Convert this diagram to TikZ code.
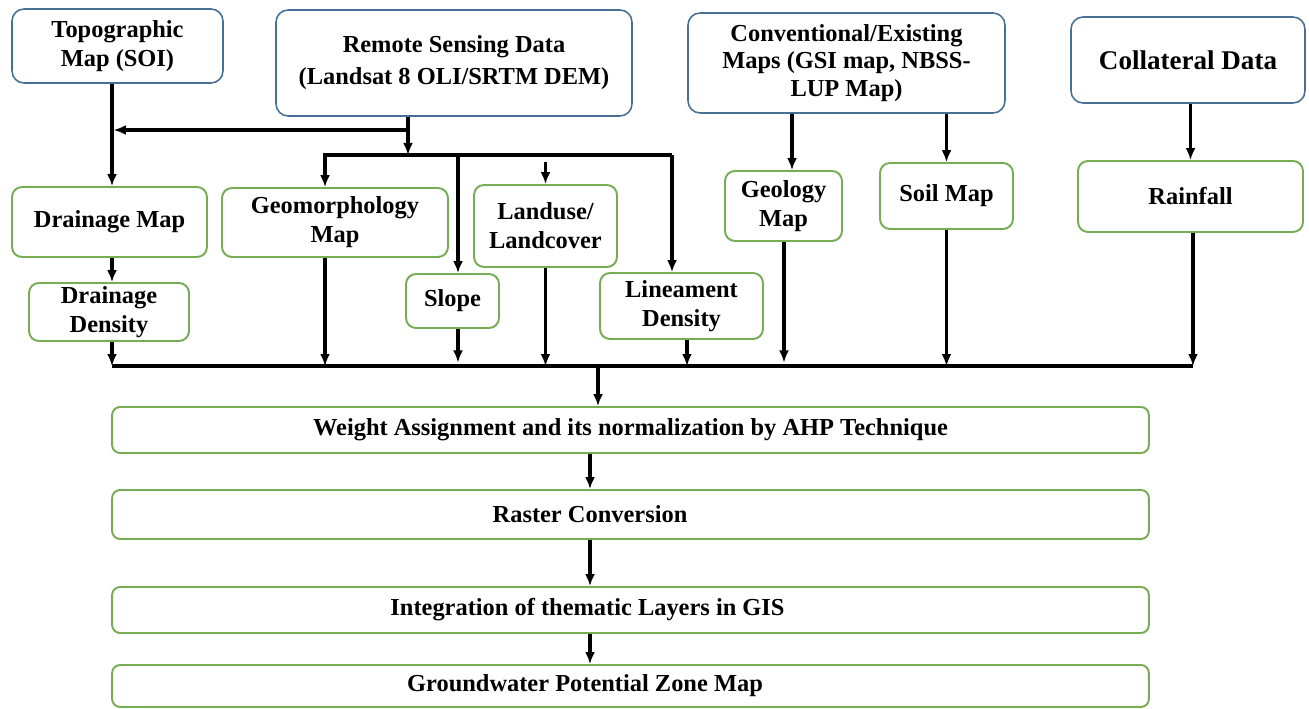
\documentclass[tikz,border=0pt]{standalone}
\usepackage{fontspec}
\setmainfont{Liberation Serif}
\usetikzlibrary{arrows.meta}
\definecolor{bluebd}{RGB}{72,112,150}
\definecolor{greenbd}{RGB}{118,172,84}
\tikzset{
  base/.style={draw, align=center, inner sep=0pt, font=\fontsize{13.9}{16.5}\selectfont\bfseries, text=black},
  bluebox/.style={base, draw=bluebd, line width=0.9pt, rounded corners=0.24cm},
  greenbox/.style={base, draw=greenbd, line width=1.1pt, rounded corners=0.2cm},
  longbox/.style={greenbox, rounded corners=0.16cm, minimum width=20.74cm},
  conn/.style={line width=1.9pt, black},
  arr/.style={conn, -{Latex[length=2.4mm,width=2mm]}},
}
\begin{document}
\begin{tikzpicture}[x=0.02cm,y=-0.02cm]
\useasboundingbox (0,0) rectangle (1309,709);
% top row
\node[bluebox, minimum width=4.22cm, minimum height=1.48cm] (topo) at (117.5,46) {Topographic\\Map (SOI)};
\node[bluebox, minimum width=7.12cm, minimum height=2.12cm, font=\fontsize{13.9}{18.2}\selectfont\bfseries] (remote) at (454,63) {Remote Sensing Data\\(Landsat 8 OLI/SRTM DEM)};
\node[bluebox, minimum width=6.34cm, minimum height=2.0cm, font=\fontsize{13.9}{15.6}\selectfont\bfseries] (conv) at (846.5,63) {Conventional/Existing\\Maps (GSI map, NBSS-\\LUP Map)};
\node[bluebox, minimum width=4.68cm, minimum height=1.72cm, font=\fontsize{15.4}{18}\selectfont\bfseries] (coll) at (1188,60) {Collateral Data};
% second row
\node[greenbox, minimum width=3.9cm, minimum height=1.4cm] (drmap) at (109.5,222) {Drainage Map};
\node[greenbox, minimum width=4.52cm, minimum height=1.38cm] (geo) at (335,222.5) {Geomorphology\\Map};
\node[greenbox, minimum width=2.86cm, minimum height=1.64cm] (lu) at (545.5,226) {Landuse/\\Landcover};
\node[greenbox, minimum width=2.34cm, minimum height=1.4cm] (geol) at (783.5,206) {Geology\\Map};
\node[greenbox, minimum width=2.66cm, minimum height=1.32cm] (soil) at (946.5,196) {Soil Map};
\node[greenbox, minimum width=4.5cm, minimum height=1.42cm] (rain) at (1190.5,196.5) {Rainfall};
% third row
\node[greenbox, minimum width=3.2cm, minimum height=1.16cm] (dd) at (109,312) {Drainage\\Density};
\node[greenbox, minimum width=1.86cm, minimum height=1.08cm] (slope) at (452.5,301) {Slope};
\node[greenbox, minimum width=3.26cm, minimum height=1.32cm] (lin) at (681.5,306) {Lineament\\Density};
% process boxes
\node[longbox, minimum height=0.92cm] (wt) at (630.5,430) {Weight Assignment and its normalization by AHP Technique};
\node[longbox, minimum height=0.98cm] (ras) at (630.5,514.5) {Raster Conversion\hspace*{1.62cm}};
\node[longbox, minimum height=0.92cm] (integ) at (630.5,610) {Integration of thematic Layers in GIS\hspace*{1.72cm}};
\node[longbox, minimum height=0.84cm] (gw) at (630.5,686) {Groundwater Potential Zone Map\hspace*{1.82cm}};
% lane coordinates
\coordinate (x112) at (112,0);
\coordinate (x458) at (458,0);
\coordinate (x687) at (687,0);
\coordinate (x792) at (792,0);
\coordinate (x784) at (784,0);
\coordinate (x325) at (325,0);
\coordinate (x1193) at (1193,0);
\coordinate (x590) at (590,0);
\coordinate (j1) at (408,130);
\coordinate (j2) at (408,155);
\coordinate (h2L) at (325,155);
\coordinate (h2R) at (672,155);
\coordinate (cL) at (112,366);
\coordinate (cR) at (1193,366);
\coordinate (tap) at (598,366);
% connectors from top row
\draw[arr] (topo.south -| x112) -- (drmap.north -| x112);
\draw[arr] (remote.south -| j1) -- (j2);
\draw[arr] (j1) -- ([xshift=1pt]j1 -| x112);
\draw[arr] (h2R) -- (h2L) -- (geo.north -| h2L);
\draw[arr] (h2R) -- (lin.north -| h2R);
\draw[arr] (h2L -| x458) -- (slope.north -| x458);
\draw[arr] ([yshift=-4pt]lu.north |- h2L) -- (lu.north);
\draw[arr] (conv.south -| x792) -- (geol.north -| x792);
\draw[arr] (conv.south -| soil.north) -- (soil.north);
\draw[arr] (coll.south -| rain.north) -- (rain.north);
\draw[arr] (drmap.south -| x112) -- (dd.north -| x112);
% collector
\draw[conn] (cL) -- (cR);
\draw[arr] (dd.south -| x112) -- (cL);
\draw[arr] (geo.south -| x325) -- (cL -| x325);
\draw[arr] (slope.south -| x458) -- ([yshift=2pt]cL -| x458);
\draw[arr] (lu.south) -- (cL -| lu.south);
\draw[arr] (lin.south -| x687) -- (cL -| x687);
\draw[arr] (geol.south -| x784) -- ([yshift=2pt]cL -| x784);
\draw[arr] (soil.south) -- (cL -| soil.south);
\draw[arr] (rain.south -| x1193) -- (cR);
\draw[arr] (tap) -- (wt.north -| tap);
% process chain
\draw[arr] (wt.south -| x590) -- (ras.north -| x590);
\draw[arr] (ras.south -| x590) -- (integ.north -| x590);
\draw[arr] (integ.south -| x590) -- (gw.north -| x590);
\end{tikzpicture}
\end{document}
